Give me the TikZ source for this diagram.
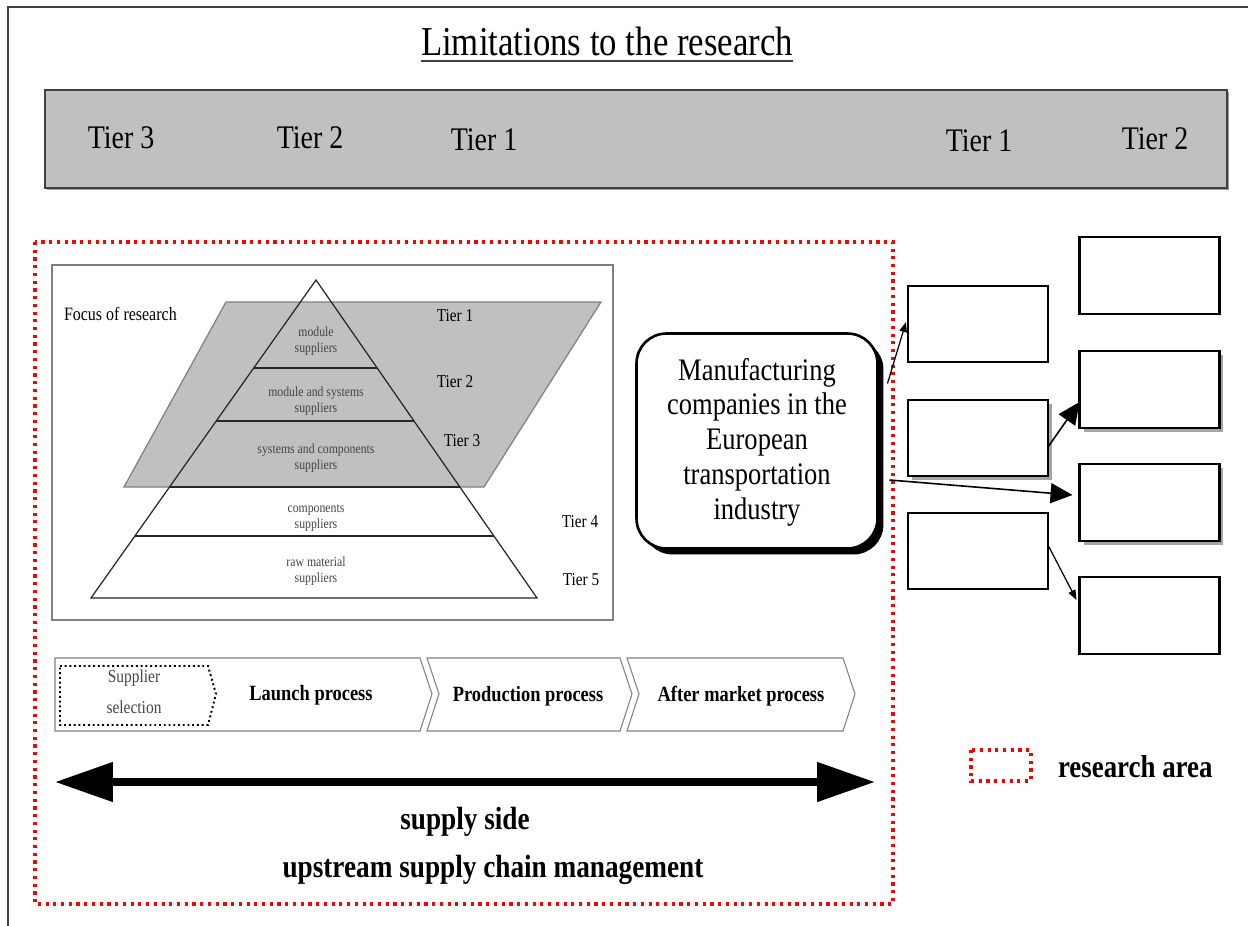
\documentclass[tikz,border=0pt]{standalone}
\usepackage{graphicx}
\usepackage{fontspec}
\setmainfont{Liberation Serif}
\usetikzlibrary{arrows.meta,shadows,calc}
\definecolor{bandgray}{HTML}{C0C0C0}
\definecolor{edgegray}{HTML}{808080}
\definecolor{txtgray}{HTML}{454545}
% narrow, tall lettering
\newcommand{\tall}[1]{\scalebox{1}[1.18]{#1}}
\begin{document}
\begin{tikzpicture}[x=0.02cm,y=-0.02cm,
  every node/.style={inner sep=0pt,outer sep=0pt},
  frameline/.style={draw=black!75,line width=1.2pt},
  redzone/.style={draw=red,line width=1.8pt,dash pattern=on 1.8pt off 2.6pt},
  tierbox/.style={draw=black,line width=1.3pt,fill=white,minimum width=2.8cm,minimum height=1.53cm},
  boxshadow/.style={drop shadow={fill=black!35,opacity=1,shadow xshift=0.08cm,shadow yshift=-0.08cm}},
  chevron/.style={draw=edgegray,line width=0.6pt,fill=white},
  pyrline/.style={draw=black!85,line width=0.7pt},
  bigtip/.style={-{Triangle[length=0.44cm,width=0.4cm]},line width=0.9pt},
  smalltip/.style={-{Triangle[length=0.2cm,width=0.15cm]},line width=0.7pt},
  bandlabel/.style={anchor=base,font=\fontsize{15.9}{19}\selectfont},
  pyrlabel/.style={anchor=base,font=\fontsize{8.7}{10}\selectfont},
  pyrtext/.style={align=center,text=txtgray,font=\fontsize{6.7}{9}\selectfont},
  proclabel/.style={font=\bfseries\fontsize{10.5}{12}\selectfont},
  boldlabel/.style={anchor=base,font=\bfseries\fontsize{15.5}{18}\selectfont}]

\useasboundingbox[fill=white] (0,0) rectangle (1248,926);

% outer frame (top and left sides)
\draw[frameline] (8,926) -- (8,7) -- (1248,7);

% title
\node[anchor=base,font=\fontsize{19.8}{24}\selectfont] (title) at (607,56) {\tall{Limitations to the research}};
\draw[draw=black!75,line width=1.2pt] ([yshift=-2.6pt]title.base west) -- ([yshift=-2.6pt]title.base east);

% grey tier band
\node[draw=black!75,line width=1.2pt,fill=bandgray,minimum width=23.64cm,minimum height=1.96cm,
      drop shadow={fill=black!40,opacity=1,shadow xshift=0.04cm,shadow yshift=-0.04cm}] (band) at (636,139) {};
\node[bandlabel] (bt3) at (121,149) {\tall{Tier 3}};
\node[bandlabel] (bt2) at (310,149) {\tall{Tier 2}};
\node[bandlabel] (bt1) at (484,151) {\tall{Tier 1}};
\node[bandlabel] (bc1) at (979,152) {\tall{Tier 1}};
\node[bandlabel] (bc2) at (1155,150) {\tall{Tier 2}};

% research area
\draw[redzone] (35,242) rectangle (893,904);

% pyramid panel
\draw[draw=edgegray,line width=0.6pt] (52,265) rectangle (613,620);
\draw[draw=edgegray,line width=0.7pt,fill=bandgray] (226,302) -- (601,302) -- (484,487) -- (124,487) -- cycle;
\coordinate (apex) at (316,280);
\coordinate (bl) at (91,598);
\coordinate (br) at (537,598);
\draw[pyrline] (apex) -- (bl) -- (br) -- cycle;
\foreach \t in {0.2767,0.4434,0.6509,0.8050}
  \draw[pyrline] ($(apex)!\t!(bl)$) -- ($(apex)!\t!(br)$);
\node[anchor=base west,font=\fontsize{9.1}{11}\selectfont] (focus) at (64,320) {\tall{Focus of research}};
\node[pyrtext] (p1) at (316,341) {\tall{module}\\\tall{suppliers}};
\node[pyrtext] (p2) at (316,401) {\tall{module and systems}\\\tall{suppliers}};
\node[pyrtext] (p3) at (316,458) {\tall{systems and components}\\\tall{suppliers}};
\node[pyrtext] (p4) at (316,518) {\tall{components}\\\tall{suppliers}};
\node[pyrtext] (p5) at (316,571) {\tall{raw material}\\\tall{suppliers}};
\node[pyrlabel] (pt1) at (455,321) {\tall{Tier 1}};
\node[pyrlabel] (pt2) at (455,387) {\tall{Tier 2}};
\node[pyrlabel] (pt3) at (462,446) {\tall{Tier 3}};
\node[pyrlabel] (pt4) at (580,527) {\tall{Tier 4}};
\node[pyrlabel] (pt5) at (581,585) {\tall{Tier 5}};

% process chevrons
\draw[chevron] (55,658) -- (420,658) -- (432,694) -- (420,731) -- (55,731) -- cycle;
\draw[chevron] (427,658) -- (620,658) -- (632,694) -- (620,731) -- (427,731) -- (439,694) -- cycle;
\draw[chevron] (627,658) -- (843,658) -- (855,694) -- (843,731) -- (627,731) -- (639,694) -- cycle;
\draw[draw=black,line width=1.1pt,dash pattern=on 1.1pt off 1.6pt] (60,666) -- (208,666) -- (216,694) -- (208,725) -- (60,725) -- cycle;
\node[align=center,text=txtgray,font=\fontsize{8.8}{17.5}\selectfont] (sel) at (134,692) {\tall{Supplier}\\\tall{selection}};
\node[proclabel] (launch) at (311,695) {\tall{Launch process}};
\node[proclabel] (prod) at (528,696) {\tall{Production process}};
\node[proclabel] (after) at (741,696) {\tall{After market process}};

% supply side arrow
\coordinate (sl) at (55,782);
\coordinate (sr) at (875,782);
\draw[line width=4.5pt,{Triangle[length=1.16cm,width=0.76cm]}-{Triangle[length=1.16cm,width=0.76cm]}] (sl) -- (sr);
\node[boldlabel] (supply) at (465,829) {\tall{supply side}};
\node[boldlabel] (uscm) at (493,877) {\tall{upstream supply chain management}};

% manufacturing companies
\node[draw=black,line width=1.5pt,fill=white,rounded corners=0.6cm,minimum width=4.82cm,minimum height=4.3cm,
      drop shadow={fill=black,opacity=1,shadow xshift=0.12cm,shadow yshift=-0.12cm}] (mfg) at (757,441) {};
\node[align=center,font=\fontsize{15.1}{19.8}\selectfont] (mfgtext) at (757,442)
  {\tall{Manufacturing}\\\tall{companies in the}\\\tall{European}\\\tall{transportation}\\\tall{industry}};

% tier 1 and tier 2 boxes of the customer side
\node[tierbox] (b11) at (978,324) {};
\node[tierbox,boxshadow] (b12) at (978,438) {};
\node[tierbox] (b13) at (978,551) {};
\node[tierbox] (b21) at (1149.5,275.5) {};
\node[tierbox,boxshadow] (b22) at (1149.5,389.5) {};
\node[tierbox,boxshadow] (b23) at (1149.5,502.5) {};
\node[tierbox] (b24) at (1149.5,615.5) {};

% connectors
\draw[smalltip] ([xshift=0.2cm,yshift=1.15cm]mfg.east) -- ([xshift=-0.04cm,yshift=0.04cm]b11.west);
\draw[bigtip] ([yshift=-0.18cm]b12.east) -- ([yshift=-0.25cm]b22.west);
\draw[bigtip] ([xshift=0.24cm,yshift=-0.78cm]mfg.east) -- ([xshift=-0.14cm,yshift=0.15cm]b23.west);
\draw[smalltip] ([yshift=0.12cm]b13.east) -- ([xshift=-0.06cm,yshift=0.31cm]b24.west);

% legend
\draw[redzone] (971,750) rectangle (1031,781);
\node[anchor=base west,font=\bfseries\fontsize{15.3}{18}\selectfont] (legend) at (1058,777) {\tall{research area}};

\end{tikzpicture}
\end{document}
